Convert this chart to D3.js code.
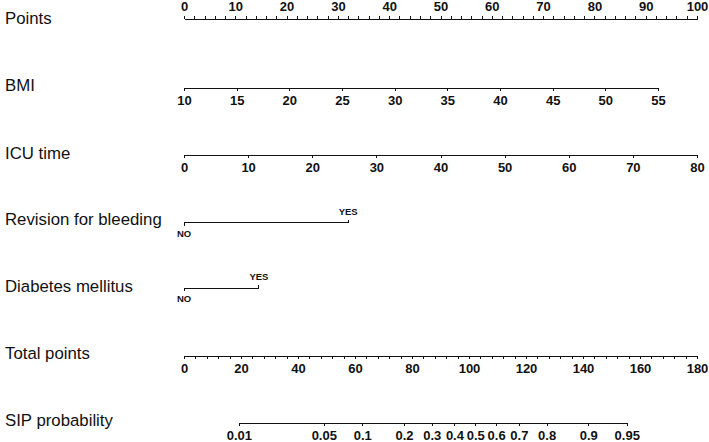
<!DOCTYPE html>
<html>
<head>
<meta charset="utf-8">
<script src="https://cdn.jsdelivr.net/npm/d3@7"></script>
<style>
  html, body { margin: 0; padding: 0; background: #fff; }
  svg { display: block; }
  .axis path, .axis line { stroke: #111; stroke-width: 1; shape-rendering: crispEdges; }
  .axis text { font-family: "Liberation Sans", Arial, sans-serif; font-size: 13px; fill: #111; font-weight: bold; }
  .rowlab { font-family: "Liberation Sans", Arial, sans-serif; font-size: 16.8px; fill: #111; }
  .cat text { font-size: 9.5px; }
</style>
</head>
<body>
<svg id="chart" width="709" height="442"></svg>
<script>
// ---------- data ----------
const rowLabels = ["Points", "BMI", "ICU time", "Revision for bleeding", "Diabetes mellitus", "Total points", "SIP probability"];

const pointsTicks = [0, 10, 20, 30, 40, 50, 60, 70, 80, 90, 100];
const pointsMinorStep = 2;

const bmiTicks = [10, 15, 20, 25, 30, 35, 40, 45, 50, 55];
const bmiRange = [10, 55];
const bmiPoints = [0, 92.4];

const icuTicks = [0, 10, 20, 30, 40, 50, 60, 70, 80];
const icuRange = [0, 80];
const icuPoints = [0, 100];

const revisionLevels = ["NO", "YES"];
const revisionPoints = [0, 32.0];

const diabetesLevels = ["NO", "YES"];
const diabetesPoints = [0, 14.6];

const totalTicks = [0, 20, 40, 60, 80, 100, 120, 140, 160, 180];
const totalMinorStep = 4;

const probTicks = [0.01, 0.05, 0.1, 0.2, 0.3, 0.4, 0.5, 0.6, 0.7, 0.8, 0.9, 0.95];
const totalAtHalf = 102.2;      // total points where probability = 0.5
const pointsPerLogit = 18.05;   // total points per unit of log-odds

// ---------- layout ----------
const svg = d3.select("#chart");
const x0 = 184, x1 = 697;
const rowY = [19, 88, 154.5, 222.7, 288.3, 356, 422.7];
const labelY = [24, 91, 159, 225, 292, 359, 426];
const tickLen = 3;

const xPts = d3.scaleLinear().domain([0, 100]).range([x0, x1]);
const xTot = d3.scaleLinear().domain([0, 180]).range([x0, x1]);

// row labels
svg.selectAll("text.rowlab").data(rowLabels).join("text")
  .attr("class", "rowlab")
  .attr("x", 5)
  .attr("y", (d, i) => labelY[i])
  .text(d => d);

function drawAxis(axis, y) {
  return svg.append("g").attr("class", "axis").attr("transform", `translate(0,${y})`).call(axis);
}

// Points axis (labels above)
drawAxis(d3.axisTop(xPts).tickValues(d3.range(0, 100 + 1e-9, pointsMinorStep)).tickSize(tickLen).tickSizeOuter(0).tickFormat(""), rowY[0]);
drawAxis(d3.axisTop(xPts).tickValues(pointsTicks).tickSize(tickLen).tickSizeOuter(0).tickPadding(5), rowY[0]);

// BMI
const xBmi = d3.scaleLinear().domain(bmiRange).range(bmiPoints.map(p => xPts(p)));
drawAxis(d3.axisBottom(xBmi).tickValues(bmiTicks).tickSize(tickLen).tickSizeOuter(0).tickPadding(5), rowY[1]);

// ICU time
const xIcu = d3.scaleLinear().domain(icuRange).range(icuPoints.map(p => xPts(p)));
drawAxis(d3.axisBottom(xIcu).tickValues(icuTicks).tickSize(tickLen).tickSizeOuter(0).tickPadding(5), rowY[2]);

// categorical rows
function drawCat(levels, pts, y) {
  const g = svg.append("g").attr("class", "axis cat");
  const xs = pts.map(p => xPts(p));
  g.append("line").attr("x1", xs[0]).attr("x2", xs[xs.length - 1]).attr("y1", y).attr("y2", y);
  levels.forEach((lev, i) => {
    const up = i % 2 === 1;
    g.append("line").attr("x1", xs[i]).attr("x2", xs[i])
      .attr("y1", y).attr("y2", up ? y - tickLen : y + tickLen);
    g.append("text").attr("x", xs[i]).attr("y", up ? y - 8 : y + 14)
      .attr("text-anchor", "middle").text(lev);
  });
}
drawCat(revisionLevels, revisionPoints, rowY[3]);
drawCat(diabetesLevels, diabetesPoints, rowY[4]);

// Total points
drawAxis(d3.axisBottom(xTot).tickValues(d3.range(0, 180 + 1e-9, totalMinorStep)).tickSize(tickLen).tickSizeOuter(0).tickFormat(""), rowY[5]);
drawAxis(d3.axisBottom(xTot).tickValues(totalTicks).tickSize(tickLen).tickSizeOuter(0).tickPadding(5), rowY[5]);

// SIP probability (logit scale)
const logit = p => Math.log(p / (1 - p));
const probToTotal = p => totalAtHalf + pointsPerLogit * logit(p);
const lo = probTicks[0], hi = probTicks[probTicks.length - 1];
const xLogit = d3.scaleLinear().domain([logit(lo), logit(hi)])
  .range([xTot(probToTotal(lo)), xTot(probToTotal(hi))]);
const fmt = new Map(probTicks.map(p => [logit(p), String(p)]));
drawAxis(d3.axisBottom(xLogit).tickValues(probTicks.map(logit)).tickSize(tickLen).tickSizeOuter(0).tickPadding(5)
  .tickFormat(v => fmt.get(v)), rowY[6]);
</script>
</body>
</html>
